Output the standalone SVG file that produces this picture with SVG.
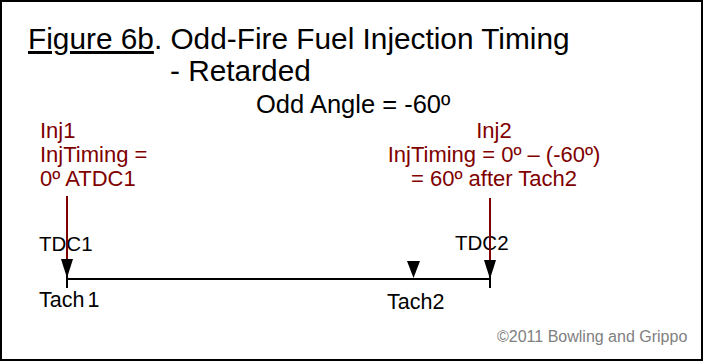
<svg xmlns="http://www.w3.org/2000/svg" width="704" height="362" viewBox="0 0 704 362">
<style>
text{font-family:"Liberation Sans",Arial,sans-serif;}
.t{font-size:29.8px;fill:#000;}
.m{font-size:25.5px;fill:#000;}
.r{font-size:22px;fill:#800000;}
.k{font-size:20.5px;fill:#000;}
.c{font-size:16px;fill:#808080;}
.ax{stroke:#000;stroke-width:2;fill:none;}
.inj{stroke:#800000;stroke-width:2;fill:none;}
.head{fill:#000;}
</style>
<rect x="1" y="1" width="701" height="359" fill="#fff" stroke="#000" stroke-width="2"/>
<g id="title">
<text class="t" x="28" y="49"><tspan text-decoration="underline">Figure 6b</tspan>. Odd-Fire Fuel Injection Timing</text>
<text class="t" x="170" y="81">- Retarded</text>
<text class="m" x="256" y="113">Odd Angle = -60º</text>
</g>
<g id="inj1">
<text class="r" x="40" y="138">Inj1</text>
<text class="r" x="40" y="162">InjTiming =</text>
<text class="r" x="40" y="186">0º ATDC1</text>
</g>
<g id="inj2">
<text class="r" x="494" y="138" text-anchor="middle">Inj2</text>
<text class="r" x="494" y="162" text-anchor="middle">InjTiming = 0º – (-60º)</text>
<text class="r" x="494" y="186" text-anchor="middle">= 60º after Tach2</text>
</g>
<g id="tdc1"><text class="k" x="39" y="251">TDC1</text></g>
<g id="tdc2"><text class="k" x="455" y="250">TDC2</text></g>
<g id="tach1"><text class="k" x="39" y="307" style="font-size:21.5px">Tach<tspan dx="3">1</tspan></text></g>
<g id="tach2"><text class="k" x="387" y="309" style="font-size:21.5px">Tach2</text></g>
<g id="connectors">
<line class="ax" x1="67" y1="279" x2="490" y2="279"/>
<line class="ax" x1="67" y1="270" x2="67" y2="288"/>
<line class="ax" x1="490" y1="270" x2="490" y2="288"/>
<line class="inj" x1="67" y1="196" x2="67" y2="276"/>
<line class="inj" x1="490" y1="198" x2="490" y2="276"/>
<path class="head" d="M61,259 L73,259 L67,278 Z"/>
<path class="head" d="M484,260 L496,260 L490,279 Z"/>
<path class="head" d="M407,261 L420,261 L413.5,278 Z"/>
</g>
<text class="c" x="497" y="342">©2011 Bowling and Grippo</text>
</svg>
